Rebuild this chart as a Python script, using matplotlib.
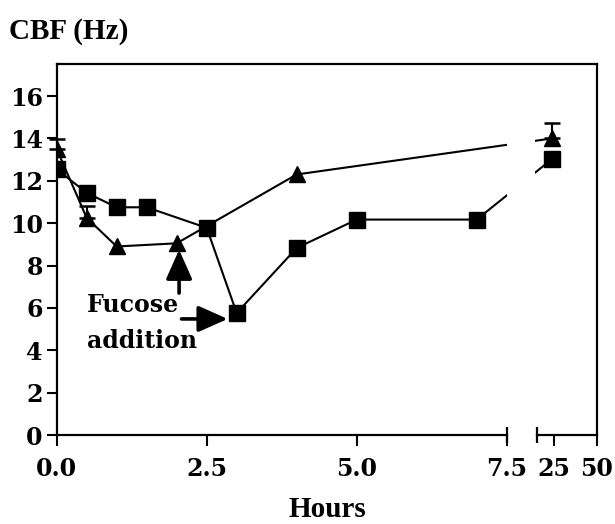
import matplotlib
matplotlib.use("Agg")
import matplotlib.pyplot as plt
import numpy as np

# ciliary beat frequency over time
tri_hours = [0, 0.5, 1, 2, 4, 24]
tri_cbf = [13.5, 10.25, 8.9, 9.05, 12.3, 14.0]

# upper error bars (only shown on some points)
err_hours = [0, 0.5, 24]
err_cbf = [13.5, 10.25, 14.0]
err_up = [0.47, 0.55, 0.74]

sq_hours = [0, 0.5, 1, 1.5, 2.5, 3, 4, 5, 7, 24]
sq_cbf = [12.55, 11.43, 10.75, 10.75, 9.78, 5.76, 8.83, 10.17, 10.17, 13.03]

xticks = [0, 2.5, 5, 7.5, 25, 50]
xticklabels = ["0.0", "2.5", "5.0", "7.5", "25", "50"]
yticks = [0, 2, 4, 6, 8, 10, 12, 14, 16]


# broken x axis: 0-7.5 h linear, small gap, then 15-50 h squeezed
def fwd(x):
    x = np.asarray(x, dtype=float)
    return np.where(x <= 7.5, x,
                    np.where(x <= 15, 7.5 + (x - 7.5) / 15.0, 8.0 + (x - 15) / 35.0))


def inv(u):
    u = np.asarray(u, dtype=float)
    return np.where(u <= 7.5, u,
                    np.where(u <= 8.0, 7.5 + (u - 7.5) * 15.0, 15 + (u - 8.0) * 35.0))


plt.rcParams['font.family'] = 'DejaVu Serif'
plt.rcParams['font.weight'] = 'bold'

fig = plt.figure(figsize=(6.15, 5.24), dpi=100)
ax = fig.add_axes([0.0922, 0.1698, 0.878, 0.7075])
ax.set_xscale('function', functions=(fwd, inv))
ax.set_xlim(0, 50)
ax.set_ylim(0, 17.5)

ax.plot(tri_hours, tri_cbf, color='black', lw=1.5, marker='^', ms=11, zorder=2)
ax.plot(sq_hours, sq_cbf, color='black', lw=1.5, marker='s', ms=11.5, zorder=2)

eb = ax.errorbar(err_hours, err_cbf, yerr=[np.zeros(len(err_up)), err_up],
                 fmt='none', ecolor='black', elinewidth=1.5, capsize=6, capthick=1.8)
for art in list(eb[1]) + list(eb[2]):
    art.set_clip_on(False)

# white out the axis break
ax.axvspan(7.5, 14.5, color='white', zorder=2.3, lw=0)

for s in ['left', 'top', 'right']:
    ax.spines[s].set_linewidth(1.6)
ax.spines['bottom'].set_visible(False)
trans = ax.get_xaxis_transform()
ax.plot([0, 7.5], [0, 0], color='black', lw=1.6, transform=trans, clip_on=False, zorder=3)
ax.plot([15, 50], [0, 0], color='black', lw=1.6, transform=trans, clip_on=False, zorder=3)
ax.plot([7.5, 15], [0, 0], ls='none', marker='|', ms=12, mew=1.6, color='black',
        transform=trans, clip_on=False, zorder=3)

ax.set_xticks(xticks, labels=xticklabels)
ax.set_yticks(yticks)
ax.tick_params(axis='x', direction='out', length=8, width=1.5, pad=8, labelsize=17)
ax.tick_params(axis='y', direction='out', length=7, width=1.5, pad=3, labelsize=17)

# Fucose addition arrows
arrow = dict(arrowstyle='-|>,head_length=0.9,head_width=0.4', mutation_scale=20,
             lw=2.6, color='black', shrinkA=0, shrinkB=0)
ax.annotate('', xy=(2.04, 8.75), xytext=(2.04, 6.7), arrowprops=arrow)
ax.annotate('', xy=(2.85, 5.48), xytext=(2.08, 5.48), arrowprops=arrow)
ax.text(0.5, 5.8, 'Fucose', fontsize=17, ha='left', va='baseline')
ax.text(0.5, 4.1, 'addition', fontsize=17, ha='left', va='baseline')

fig.text(9.3 / 615, 1 - 38.3 / 524, 'CBF (Hz)', family='Liberation Serif',
         fontsize=21, weight='bold', ha='left', va='baseline')
fig.text(327.5 / 615, 1 - 517 / 524, 'Hours', family='Liberation Serif',
         fontsize=21, weight='bold', ha='center', va='baseline')

fig.savefig('out.png', dpi=100)
